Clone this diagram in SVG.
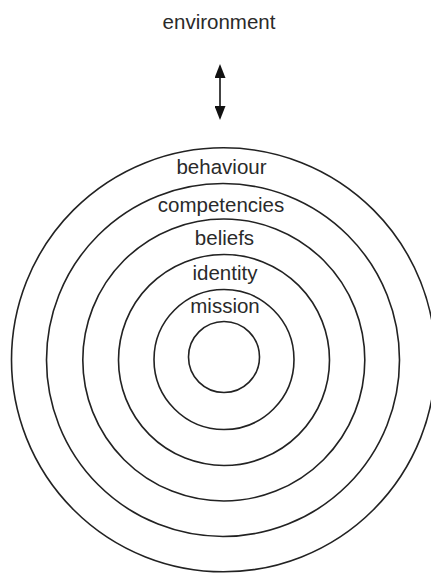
<svg xmlns="http://www.w3.org/2000/svg" width="431" height="576" viewBox="0 0 431 576">
  <style>
    .ring { fill: none; stroke: #222; stroke-width: 1.6; }
    .lbl { font-family: "Liberation Sans", Arial, sans-serif; font-size: 20.5px; fill: #2a2a2a; text-anchor: middle; }
    .conn { stroke: #444; stroke-width: 2; fill: none; }
  </style>
  <defs>
    <marker id="head" markerUnits="userSpaceOnUse" viewBox="0 0 14 11" markerWidth="14" markerHeight="11" refX="0" refY="5.5" orient="auto-start-reverse">
      <path d="M0,0 L14,5.5 L0,11 z" fill="#111"/>
    </marker>
  </defs>
  <rect width="431" height="576" fill="#fff"/>
  <g id="environment">
    <text class="lbl" x="219" y="29">environment</text>
  </g>
  <g id="connectors">
    <line class="conn" x1="220" y1="78" x2="220" y2="106" marker-start="url(#head)" marker-end="url(#head)"/>
  </g>
  <g id="behaviour">
    <circle class="ring" cx="223.5" cy="359.8" r="212"/>
    <text class="lbl" x="221.5" y="173.5">behaviour</text>
  </g>
  <g id="competencies">
    <circle class="ring" cx="223" cy="360" r="176.5"/>
    <text class="lbl" x="221" y="211.5">competencies</text>
  </g>
  <g id="beliefs">
    <circle class="ring" cx="223.8" cy="360" r="141"/>
    <text class="lbl" x="224.5" y="244.5">beliefs</text>
  </g>
  <g id="identity">
    <circle class="ring" cx="224" cy="360" r="105.5"/>
    <text class="lbl" x="225" y="280">identity</text>
  </g>
  <g id="mission">
    <circle class="ring" cx="224" cy="359.5" r="70"/>
    <text class="lbl" x="225" y="313">mission</text>
  </g>
  <g id="core">
    <circle class="ring" cx="224" cy="357" r="35.5"/>
  </g>
</svg>
